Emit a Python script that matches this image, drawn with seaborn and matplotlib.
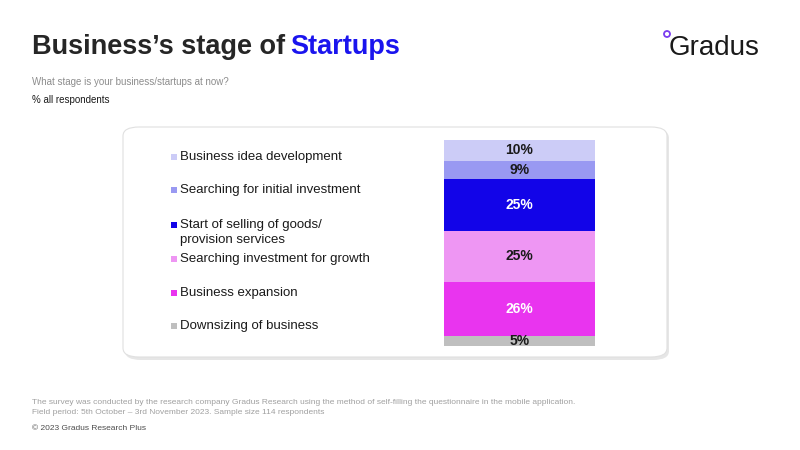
#%% IMPORTING PACKAGES
import numpy as np
import matplotlib.pyplot as plt
import pandas as pd
import seaborn as sns
from matplotlib.patches import FancyBboxPatch, Ellipse

sns.set_style('white')
plt.rcParams['font.family'] = ['Liberation Sans', 'DejaVu Sans']

#%%
stages = pd.DataFrame({
    'stage': ['Business idea development', 'Searching for initial investment',
              'Start of selling of goods/\nprovision services', 'Searching investment for growth',
              'Business expansion', 'Downsizing of business'],
    'share': [10, 9, 25, 25, 26, 5],
    'color': ['#ccccf7', '#9999f2', '#1204e8', '#ee96f3', '#e934ef', '#bfbfbf'],
    'txt': ['#1a1a1a', '#1a1a1a', 'white', '#1a1a1a', 'white', '#1a1a1a'],
    'legend_y': [157, 190, 225, 259, 293, 326], # pixel rows of legend entries (first line)
})

#%%
fig = plt.figure(figsize=(8, 4.5), dpi=100)
fig.patch.set_facecolor('white')

# rounded panel with soft shadow
shadow = FancyBboxPatch((125/800, 1-360/450), 544/800, 231/450, boxstyle='round,pad=0,rounding_size=0.02',
                        transform=fig.transFigure, facecolor='#e6e6e6', edgecolor='none', zorder=0)
panel = FancyBboxPatch((123/800, 1-357/450), 544/800, 230/450, boxstyle='round,pad=0,rounding_size=0.02',
                       transform=fig.transFigure, facecolor='white', edgecolor='#e0e0e0', lw=0.8, zorder=0)
fig.patches.extend([shadow, panel])

ax = fig.add_axes([444/800, 1-346/450, 151/800, 206/450])
ax.set_zorder(3)
ax.patch.set_alpha(0)
bottom = 0
for i, row in stages.iterrows():
    sns.barplot(x=[0], y=[row['share']], bottom=bottom, color=row['color'], width=1,
                saturation=1, linewidth=0, ax=ax)
    ax.text(0, bottom + row['share']/2, f"{row['share']}%", ha='center', va='center',
            color=row['txt'], fontsize=10, fontweight='bold')
    bottom += row['share']
ax.set_xlim(-0.5, 0.5)
ax.set_ylim(100, 0)
ax.axis('off')

# legend entries
for i, row in stages.iterrows():
    y = 1 - row['legend_y']/450
    fig.patches.append(plt.Rectangle((171/800, y - 3/450), 6/800, 6/450,
                                     transform=fig.transFigure, facecolor=row['color'], edgecolor='none'))
    fig.text(180/800, y + 6/450, row['stage'], fontsize=9.5, va='top', color='#1a1a1a',
             linespacing=1.35)

# titles
fig.text(32/800, 1-47/450, 'Business\u2019s stage of ', fontsize=19.5, fontweight='bold', va='center')
fig.text(290/800, 1-47/450, 'Startups', fontsize=19.5, fontweight='bold', va='center', color='#1a14ee')
fig.text(32/800, 1-82/450, 'What stage is your business/startups at now?', fontsize=7, color='#8c8c8c', va='center')
fig.text(32/800, 1-100/450, '% all respondents', fontsize=7, color='#1a1a1a', va='center')

# logo
fig.text(669/800, 1-48/450, 'Gradus', fontsize=20, va='center', color='#1a1a1a')
fig.patches.append(Ellipse((667/800, 1-34/450), 6/800, 6/450, transform=fig.transFigure,
                           facecolor='none', edgecolor='#7a3cf0', lw=1.3))

# footer
fig.text(32/800, 1-402/450, 'The survey was conducted by the research company Gradus Research using the method of self-filling the questionnaire in the mobile application.',
         fontsize=6, color='#a0a0a0', va='center')
fig.text(32/800, 1-412/450, 'Field period: 5th October \u2013 3rd November 2023. Sample size 114 respondents',
         fontsize=6, color='#a0a0a0', va='center')
fig.text(32/800, 1-429/450, '\u00a9 2023 Gradus Research Plus', fontsize=6, color='#4d4d4d', va='center')

plt.savefig('out.png', dpi=100)
